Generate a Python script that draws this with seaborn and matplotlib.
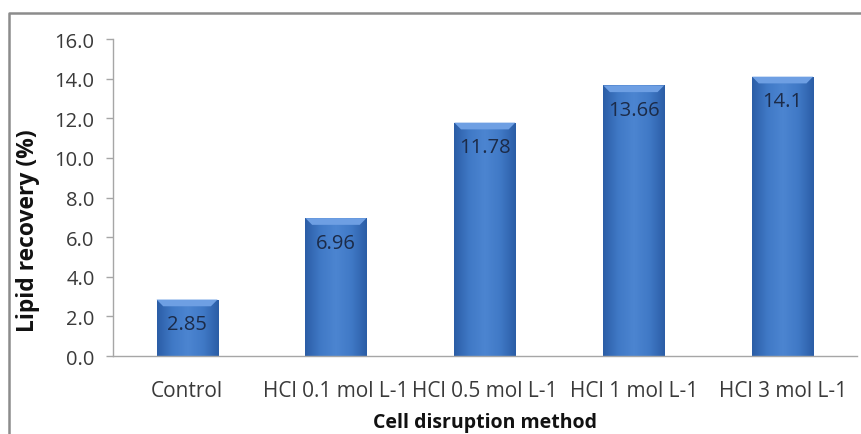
import numpy as np
import pandas as pd
import matplotlib
matplotlib.use("Agg")
import matplotlib.pyplot as plt
import seaborn as sns
from matplotlib.patches import Polygon
from matplotlib.lines import Line2D
from matplotlib.colors import LinearSegmentedColormap

# Data
methods = ["Control", "HCl 0.1 mol L-1", "HCl 0.5 mol L-1", "HCl 1 mol L-1", "HCl 3 mol L-1"]
recovery = [2.85, 6.96, 11.78, 13.66, 14.1]
value_labels = ["2.85", "6.96", "11.78", "13.66", "14.1"]
y_ticks = [0, 2, 4, 6, 8, 10, 12, 14, 16]

sns.set_theme(style="white")
plt.rcParams["font.family"] = ["Open Sans", "DejaVu Sans"]

df = pd.DataFrame({"method": methods, "recovery": recovery})

fig = plt.figure(figsize=(8.61, 4.35), dpi=100)
ax = fig.add_axes([0.1308, 0.1793, 0.8646, 0.7287])

sns.barplot(data=df, x="method", y="recovery", color="#3C72BE", width=0.41,
            saturation=1, ax=ax, zorder=2)

# Cylinder-like horizontal shading on each bar
shade = LinearSegmentedColormap.from_list(
    "barshade", ["#2B5DA6", "#4079C6", "#4C85D1", "#4079C6", "#2B5DA6"])
grad = np.linspace(0, 1, 256).reshape(1, -1)
for patch in ax.patches[:len(methods)]:
    x0, y0 = patch.get_x(), patch.get_y()
    w, h = patch.get_width(), patch.get_height()
    im = ax.imshow(grad, cmap=shade, aspect="auto",
                   extent=[x0, x0 + w, y0, y0 + h], zorder=2.1)
    im.set_clip_path(patch)
    patch.set_edgecolor("none")
    # lighter bevel at the bar top
    dx, dy = 0.045, 0.34
    top = y0 + h
    bevel = Polygon([[x0, top], [x0 + w, top], [x0 + w - dx, top - dy], [x0 + dx, top - dy]],
                    closed=True, facecolor="#6E9FE3", edgecolor="none", zorder=2.2)
    ax.add_patch(bevel)

ax.set_xlim(-0.5, len(methods) - 0.5)
ax.set_ylim(0, 16)
ax.set_yticks(y_ticks)
ax.set_yticklabels([f"{v:.1f}" for v in y_ticks])

# Value labels inside the bars
for i, (v, lab) in enumerate(zip(recovery, value_labels)):
    ax.text(i, v - 1.25, lab, ha="center", va="center", fontsize=14.5,
            color="#1C2B48", zorder=3)

for side in ["top", "right"]:
    ax.spines[side].set_visible(False)
for side in ["left", "bottom"]:
    ax.spines[side].set_color("#A6A6A6")
    ax.spines[side].set_linewidth(1.0)

ax.tick_params(axis="y", which="major", left=True, length=5, width=1.0,
               color="#A6A6A6", labelsize=14.5, labelcolor="#3A3A3A", pad=8)
ax.tick_params(axis="x", bottom=False, labelsize=15, labelcolor="#3A3A3A", pad=11)

ax.set_xlabel("Cell disruption method", fontsize=14, fontweight="bold",
              color="#111111", labelpad=8)
ax.set_ylabel("Lipid recovery (%)", fontsize=16.5, fontweight="bold",
              color="#111111")
ax.yaxis.set_label_coords(-0.097, 0.40)
ax.grid(False)

# Outer chart frame (left and top edges)
fig.add_artist(Line2D([9 / 861, 9 / 861, 1.0], [0.0, 1 - 14 / 435, 1 - 14 / 435],
                      transform=fig.transFigure, color="#8C8C8C", linewidth=1.8))

fig.savefig("out.png", dpi=100)
